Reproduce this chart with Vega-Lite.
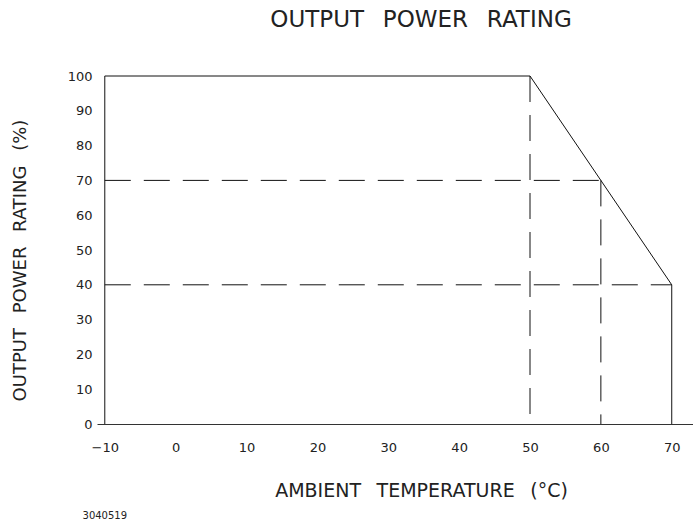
{
  "$schema": "https://vega.github.io/schema/vega-lite/v6.json",
  "autosize": "none",
  "width": 596,
  "height": 348,
  "padding": {"left": 97, "top": 76, "right": 0, "bottom": 101},
  "background": "white",
  "config": {
    "view": {"stroke": null},
    "font": "DejaVu Sans",
    "axis": {"grid": false, "labelFont": "DejaVu Sans", "titleFont": "DejaVu Sans", "labelColor": "#222", "titleColor": "#222", "titleFontWeight": "normal", "labelOverlap": false}
  },
  "title": {
    "text": "OUTPUT\u00a0\u2002POWER\u00a0\u2002RATING",
    "fontSize": 23,
    "fontWeight": "normal",
    "font": "DejaVu Sans",
    "color": "#222",
    "anchor": "middle",
    "dx": 26,
    "offset": 38
  },
  "datasets": {
    "solid": [
      {"i": 0, "x": -10, "y": 0},
      {"i": 1, "x": -10, "y": 100},
      {"i": 2, "x": 50, "y": 100},
      {"i": 3, "x": 70, "y": 40},
      {"i": 4, "x": 70, "y": 0}
    ],
    "dashed": [
      {"seg": "A", "i": 0, "x": 50, "y": 100},
      {"seg": "A", "i": 1, "x": 50, "y": 0},
      {"seg": "B", "i": 0, "x": -10, "y": 70},
      {"seg": "B", "i": 1, "x": 60, "y": 70},
      {"seg": "C", "i": 0, "x": 60, "y": 70},
      {"seg": "C", "i": 1, "x": 60, "y": 0},
      {"seg": "D", "i": 0, "x": -10, "y": 40},
      {"seg": "D", "i": 1, "x": 70, "y": 40}
    ],
    "note": [
      {"label": "3040519", "x": -10, "y": -26.4}
    ]
  },
  "encoding": {
    "x": {
      "field": "x", "type": "quantitative",
      "scale": {"domain": [-11.1, 73], "nice": false, "zero": false},
      "axis": {
        "values": [-10, 0, 10, 20, 30, 40, 50, 60, 70],
        "ticks": false,
        "domainColor": "#333",
        "labelFontSize": 13,
        "labelPadding": 17,
        "title": "AMBIENT\u00a0\u2002TEMPERATURE\u00a0\u2002(°C)",
        "titleFontSize": 19,
        "titlePadding": 27,
        "titleX": 324
      }
    },
    "y": {
      "field": "y", "type": "quantitative",
      "scale": {"domain": [0, 100], "nice": false},
      "axis": {
        "values": [0, 10, 20, 30, 40, 50, 60, 70, 80, 90, 100],
        "domain": false,
        "ticks": false,
        "labelFontSize": 13,
        "labelPadding": 5,
        "labelOverlap": false,
        "title": "OUTPUT\u00a0\u2002POWER\u00a0\u2002RATING\u00a0\u2002(%)",
        "titleFontSize": 18,
        "titlePadding": 38,
        "titleY": 184
      }
    }
  },
  "layer": [
    {
      "data": {"name": "solid"},
      "mark": {"type": "line", "color": "#111", "strokeWidth": 1, "clip": false},
      "encoding": {
        "order": {"field": "i", "type": "quantitative"}
      }
    },
    {
      "data": {"name": "dashed"},
      "mark": {"type": "line", "color": "#111", "strokeWidth": 1, "strokeDash": [26, 13], "clip": false},
      "encoding": {
        "detail": {"field": "seg", "type": "nominal"},
        "order": {"field": "i", "type": "quantitative"}
      }
    },
    {
      "data": {"name": "note"},
      "mark": {"type": "text", "fontSize": 10, "color": "#222", "align": "center", "baseline": "middle", "clip": false},
      "encoding": {
        "text": {"field": "label"}
      }
    }
  ]
}
